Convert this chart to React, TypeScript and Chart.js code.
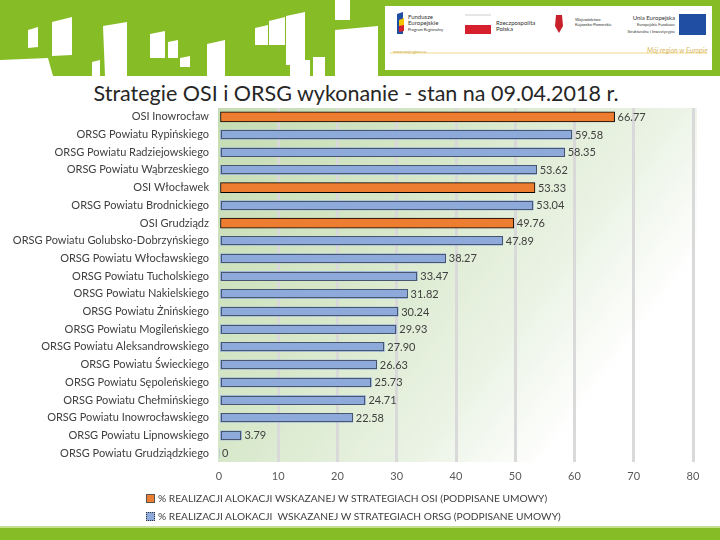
import React, { useEffect, useRef } from "react";
import { Chart, registerables } from "chart.js";

Chart.register(...registerables);

const categories = [
  "OSI Inowrocław",
  "ORSG Powiatu Rypińskiego",
  "ORSG Powiatu Radziejowskiego",
  "ORSG Powiatu Wąbrzeskiego",
  "OSI Włocławek",
  "ORSG Powiatu Brodnickiego",
  "OSI Grudziądz",
  "ORSG Powiatu Golubsko-Dobrzyńskiego",
  "ORSG Powiatu Włocławskiego",
  "ORSG Powiatu Tucholskiego",
  "ORSG Powiatu Nakielskiego",
  "ORSG Powiatu Żnińskiego",
  "ORSG Powiatu Mogileńskiego",
  "ORSG Powiatu Aleksandrowskiego",
  "ORSG Powiatu Świeckiego",
  "ORSG Powiatu Sępoleńskiego",
  "ORSG Powiatu Chełmińskiego",
  "ORSG Powiatu Inowrocławskiego",
  "ORSG Powiatu Lipnowskiego",
  "ORSG Powiatu Grudziądzkiego",
];

const osiValues: (number | null)[] = [
  66.77, null, null, null, 53.33, null, 49.76, null, null, null,
  null, null, null, null, null, null, null, null, null, null,
];

const orsgValues: (number | null)[] = [
  null, 59.58, 58.35, 53.62, null, 53.04, null, 47.89, 38.27, 33.47,
  31.82, 30.24, 29.93, 27.9, 26.63, 25.73, 24.71, 22.58, 3.79, 0,
];

const seriesNames = [
  "% REALIZACJI ALOKACJI WSKAZANEJ W STRATEGIACH OSI (PODPISANE UMOWY)",
  "% REALIZACJI ALOKACJI  WSKAZANEJ W STRATEGIACH ORSG (PODPISANE UMOWY)",
];

const xTicks = [0, 10, 20, 30, 40, 50, 60, 70, 80];

const titleText = "Strategie OSI i ORSG wykonanie - stan na 09.04.2018 r.";

const FONT = "Lato, 'Liberation Sans', sans-serif";

const bgPlugin = {
  id: "plotBg",
  beforeDraw(chart: any) {
    const { ctx, chartArea } = chart;
    if (!chartArea) return;
    const { left, top, right, bottom } = chartArea;
    const g = ctx.createLinearGradient(left, top, right, bottom);
    g.addColorStop(0, "#c5dcb2");
    g.addColorStop(0.35, "#d7e8ca");
    g.addColorStop(0.62, "#ebf3e5");
    g.addColorStop(0.8, "#ffffff");
    g.addColorStop(1, "#ffffff");
    ctx.save();
    ctx.fillStyle = g;
    ctx.fillRect(left - 1, top, right - left + 5, bottom - top);
    ctx.restore();
  },
};

const labelPlugin = {
  id: "barLabels",
  afterDatasetsDraw(chart: any) {
    const ctx = chart.ctx;
    ctx.save();
    chart.data.datasets.forEach((ds: any, i: number) => {
      const meta = chart.getDatasetMeta(i);
      meta.data.forEach((el: any, j: number) => {
        const v = ds.data[j];
        if (v === null || v === undefined) return;
        const p = el.getProps(["x", "y", "base", "height"], true);
        if (i === 1 && v > 0) {
          ctx.strokeStyle = "#000000";
          ctx.lineWidth = 1;
          ctx.setLineDash([1, 1]);
          const t = Math.round(p.y - p.height / 2) + 0.5;
          const b = Math.round(p.y + p.height / 2) - 0.5;
          const l = Math.round(p.base) + 0.5;
          const r = Math.round(p.x) - 0.5;
          ctx.strokeRect(l, t, r - l, b - t);
          ctx.setLineDash([]);
        }
        ctx.fillStyle = "#404040";
        ctx.font = `11px ${FONT}`;
        ctx.textAlign = "left";
        ctx.textBaseline = "middle";
        const txt = v === 0 ? "0" : v.toFixed(2);
        ctx.fillText(txt, p.x + 3, p.y + 0.5);
      });
    });
    ctx.restore();
  },
};

function Header() {
  const shapes = [
    "28,30 38,27 38,47 28,48",
    "0,60 48,58 53,76 0,76",
    "52,22 72,17 72,55 52,56",
    "92,62 100,60 100,76 92,76",
    "103,26 127,22 127,76 105,76",
    "150,34 165,31 165,58 150,58",
    "168,42 178,40 178,58 168,58",
    "180,58 190,56 190,67 180,67",
    "207,44 225,40 225,76 207,76",
    "255,28 268,25 268,45 255,45",
    "269,21 285,17 285,45 269,45",
    "286,16 305,12 305,65 286,65",
    "290,60 310,60 310,76 290,76",
    "313,57 325,57 325,76 313,76",
    "335,0 350,0 350,20 335,20",
    "335,30 378,26 378,76 335,76",
  ];
  return (
    <div style={{ position: "absolute", left: 0, top: 0, width: 720, height: 76, background: "#86bc25" }}>
      <svg width={385} height={76} style={{ position: "absolute", left: 0, top: 0 }}>
        {shapes.map((s, i) => (
          <polygon key={i} points={s} fill="#ffffff" />
        ))}
      </svg>
      <div style={{ position: "absolute", left: 385, top: 6, width: 327, height: 64, background: "#ffffff", fontFamily: FONT, color: "#333" }}>
        <svg width={327} height={64} style={{ position: "absolute", left: 0, top: 0 }}>
          <polygon points="12,8 18,6 18,28 12,28" fill="#1f4ea3" />
          <polygon points="14,14 19,12 19,20 14,22" fill="#f4c400" />
          <polygon points="14,20 19,19 19,25 14,26" fill="#d6202e" />
          <line x1={80} y1={9} x2={106} y2={9} stroke="#cccccc" strokeWidth={1} />
          <rect x={80} y={19} width={26} height={9} fill="#d6202e" />
          <polygon points="171,9 177,9 178,20 174,27 170,20" fill="#c8202a" />
          <rect x={294} y={8} width={27} height={21} fill="#1f4ea3" />
          <line x1={5} y1={47} x2={322} y2={47} stroke="#f0d98a" strokeWidth={1} />
        </svg>
        <div style={{ position: "absolute", left: 23, top: 8, fontSize: 6, lineHeight: "6px" }}>
          Fundusze<br />Europejskie<br /><span style={{ fontSize: 4 }}>Program Regionalny</span>
        </div>
        <div style={{ position: "absolute", left: 111, top: 14, fontSize: 6, lineHeight: "6px" }}>
          Rzeczpospolita<br />Polska
        </div>
        <div style={{ position: "absolute", left: 190, top: 11, fontSize: 4, lineHeight: "5px" }}>
          Województwo<br />Kujawsko-Pomorskie
        </div>
        <div style={{ position: "absolute", left: 242, top: 9, fontSize: 6, lineHeight: "6px", textAlign: "right", width: 48 }}>
          Unia Europejska<br /><span style={{ fontSize: 4 }}>Europejskie Fundusze<br />Strukturalne i Inwestycyjne</span>
        </div>
        <div style={{ position: "absolute", left: 8, top: 43, fontSize: 4, color: "#c9a640" }}>www.mojregion.eu</div>
        <div style={{ position: "absolute", left: 262, top: 40, fontSize: 7, color: "#d9b860", fontStyle: "italic" }}>Mój region w Europie</div>
      </div>
    </div>
  );
}

export default function App() {
  const ref = useRef<HTMLCanvasElement | null>(null);

  useEffect(() => {
    if (!ref.current) return;
    const chart = new Chart(ref.current, {
      type: "bar",
      data: {
        labels: categories,
        datasets: [
          {
            label: seriesNames[0],
            data: osiValues,
            backgroundColor: "#ed7d31",
            borderColor: "#000000",
            borderWidth: 1,
            borderSkipped: false,
            barThickness: 10,
            grouped: false,
          } as any,
          {
            label: seriesNames[1],
            data: orsgValues,
            backgroundColor: "#8eaadb",
            borderWidth: 0,
            barThickness: 9,
            grouped: false,
          } as any,
        ],
      },
      options: {
        indexAxis: "y",
        animation: false,
        responsive: false,
        maintainAspectRatio: false,
        layout: { padding: { left: 0, right: 27, top: 108, bottom: 48 } },
        plugins: {
          legend: { display: false },
          tooltip: { enabled: false },
          title: { display: false },
        },
        scales: {
          x: {
            type: "linear",
            min: 0,
            max: 80,
            afterBuildTicks: (scale: any) => {
              scale.ticks = xTicks.map((v) => ({ value: v }));
            },
            afterFit: (scale: any) => {
              scale.height = 30;
            },
            ticks: {
              color: "#595959",
              font: { family: FONT, size: 11 },
              padding: 8,
            },
            grid: {
              color: (c: any) => (c.tick && c.tick.value === 0 ? "rgba(0,0,0,0)" : "#d9d9d9"),
              lineWidth: 3,
              drawTicks: false,
            },
            border: { display: false },
          },
          y: {
            type: "category",
            afterFit: (scale: any) => {
              scale.width = 219;
            },
            ticks: {
              color: "#404040",
              font: { family: FONT, size: 11 },
              padding: 10,
              autoSkip: false,
            },
            grid: { display: false, drawTicks: false },
            border: { display: false },
          },
        },
      } as any,
      plugins: [bgPlugin, labelPlugin],
    });
    return () => chart.destroy();
  }, []);

  return (
    <div style={{ position: "absolute", left: 0, top: 0, width: 720, height: 540, background: "#ffffff", overflow: "hidden", fontFamily: FONT }}>
      <Header />
      <div style={{ position: "absolute", left: 0, top: 79, width: 712, textAlign: "center", fontSize: 21.5, fontWeight: 400, color: "#262626", lineHeight: "28px" }}>
        {titleText}
      </div>
      <canvas ref={ref} width={720} height={540} style={{ position: "absolute", left: 0, top: 0, width: 720, height: 540 }} />
      <div style={{ position: "absolute", left: 146, top: 489, fontSize: 10.2, color: "#404040", lineHeight: "18px" }}>
        <div style={{ display: "flex", alignItems: "center" }}>
          <span style={{ display: "inline-block", width: 7, height: 7, background: "#ed7d31", border: "1px solid #555", marginRight: 3 }} />
          <span>{seriesNames[0]}</span>
        </div>
        <div style={{ display: "flex", alignItems: "center" }}>
          <span style={{ display: "inline-block", width: 7, height: 7, background: "#8eaadb", border: "1px dotted #333", marginRight: 3 }} />
          <span style={{ whiteSpace: "pre" }}>{seriesNames[1]}</span>
        </div>
      </div>
      <div style={{ position: "absolute", left: 0, top: 526, width: 720, height: 2, background: "#c6e08f" }} />
      <div style={{ position: "absolute", left: 0, top: 528, width: 720, height: 12, background: "#86bc25" }} />
    </div>
  );
}
